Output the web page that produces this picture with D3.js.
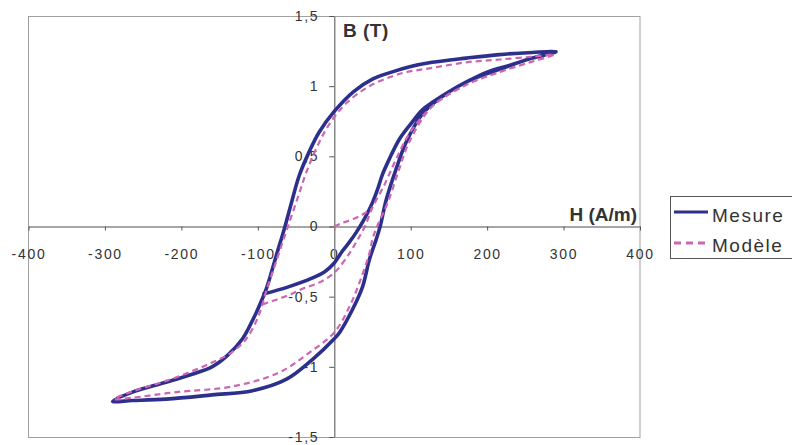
<!DOCTYPE html>
<html>
<head>
<meta charset="utf-8">
<script src="https://cdn.jsdelivr.net/npm/d3@7"></script>
<style>
  html, body { margin: 0; padding: 0; background: #fff; }
  svg { display: block; font-family: "Liberation Sans", Arial, sans-serif; }
</style>
</head>
<body>
<svg id="chart" width="792" height="445"></svg>
<script>
// ---- Data (H in A/m, B in T) ----
const xTicks = [-400, -300, -200, -100, 0, 100, 200, 300, 400];
const yTicks = [-1.5, -1, -0.5, 0, 0.5, 1, 1.5];
const xTitle = "H (A/m)";
const yTitle = "B (T)";
const seriesNames = ["Mesure", "Modèle"];

// Measured loop (single continuous trace)
const mesureH = [-92, -60, -30, -12, 0, 10, 20, 29, 40, 50, 57, 63, 72, 85, 100, 115, 130, 150, 173, 200, 230, 259, 290,
                 259, 216, 173, 128, 100, 75, 50, 25, 0, -20, -33, -46, -56, -65, -76, -88, -96, -107, -120, -140, -160, -190, -220, -264, -290,
                 -264, -220, -160, -107, -63, -29, 0, 7, 24, 37, 46, 55, 60, 68, 81, 94, 115, 130, 173, 216, 259, 290];
const mesureB = [-0.48, -0.43, -0.37, -0.32, -0.26, -0.18, -0.11, -0.04, 0.06, 0.17, 0.27, 0.37, 0.48, 0.62, 0.73, 0.83, 0.89, 0.96, 1.03, 1.1, 1.15, 1.2, 1.245,
                 1.24, 1.225, 1.2, 1.17, 1.14, 1.1, 1.05, 0.96, 0.82, 0.67, 0.53, 0.36, 0.17, -0.01, -0.21, -0.43, -0.54, -0.67, -0.8, -0.92, -1.0, -1.06, -1.11, -1.18, -1.245,
                 -1.24, -1.23, -1.2, -1.17, -1.09, -0.95, -0.8, -0.755, -0.59, -0.43, -0.235, -0.09, 0, 0.19, 0.41, 0.6, 0.8, 0.88, 1.03, 1.12, 1.2, 1.245];

// Model loop
const modeleH = [-94, -60, -40, -20, 0, 20, 30, 40, 50, 65, 81, 98, 128, 173, 216, 259, 288,
                 259, 216, 173, 128, 87, 46, 16, 0, -12, -24, -37, -45, -55, -65, -76, -89, -94, -100, -115, -135, -160, -190, -220, -264, -288,
                 -264, -207, -133, -72, -33, 0, 20, 33, 46, 50, 56, 70, 85, 98, 128, 173, 216, 259, 288];
const modeleB = [-0.555, -0.49, -0.44, -0.4, -0.33, -0.19, -0.1, 0.0, 0.135, 0.29, 0.48, 0.66, 0.855, 1.01, 1.1, 1.175, 1.225,
                 1.21, 1.19, 1.17, 1.13, 1.09, 1.0, 0.88, 0.78, 0.68, 0.55, 0.38, 0.25, 0.09, -0.07, -0.25, -0.46, -0.555, -0.65, -0.8, -0.9, -0.97, -1.04, -1.1, -1.175, -1.23,
                 -1.22, -1.18, -1.14, -1.04, -0.9, -0.755, -0.57, -0.4, -0.19, -0.09, 0.0, 0.17, 0.41, 0.6, 0.855, 1.01, 1.1, 1.175, 1.225];

// Model first magnetisation curve
const initH = [0, 10, 24, 37, 48];
const initB = [0, 0.025, 0.05, 0.085, 0.125];

// ---- Layout ----
const svg = d3.select("#chart");
const plot = { left: 28.5, right: 640, top: 16, bottom: 437 };
const x = d3.scaleLinear().domain([-400, 400]).range([plot.left, plot.right]);
const y = d3.scaleLinear().domain([-1.5, 1.5]).range([plot.bottom, plot.top]);

const axisColor = "#888";
const textColor = "#333";
const blue = "#2c2f8c";
const pink = "#cc66b3";

// Plot border
svg.append("rect")
  .attr("x", plot.left).attr("y", plot.top + 0.5)
  .attr("width", plot.right - plot.left).attr("height", plot.bottom - plot.top)
  .attr("fill", "none").attr("stroke", "#a0a0a0").attr("stroke-width", 1);

const fmt = d => String(d).replace(".", ",");

// X axis through B = 0
const gx = svg.append("g")
  .attr("transform", `translate(0,${y(0)})`)
  .call(d3.axisBottom(x).tickValues(xTicks).tickFormat(fmt).tickSize(4).tickSizeOuter(0).tickPadding(19));
// Y axis through H = 0
const gy = svg.append("g")
  .attr("transform", `translate(${x(0)},0)`)
  .call(d3.axisLeft(y).tickValues(yTicks).tickFormat(fmt).tickSize(5).tickSizeOuter(0).tickPadding(10));

[gx, gy].forEach(g => {
  g.select(".domain").attr("stroke", axisColor).attr("stroke-width", 1.5);
  g.selectAll(".tick line").attr("stroke", "#555").attr("stroke-width", 1);
  g.selectAll(".tick text")
    .attr("fill", textColor)
    .style("font-size", "14px")
    .style("letter-spacing", "1.7px")
    .style("font-family", "'Liberation Sans', Arial, sans-serif");
});

// Axis titles
svg.append("text").attr("x", 343).attr("y", 37)
  .attr("fill", textColor).style("font-size", "19px").style("font-weight", "bold")
  .style("letter-spacing", "0.5px")
  .text(yTitle);
svg.append("text").attr("x", 637).attr("y", 221).attr("text-anchor", "end")
  .attr("fill", textColor).style("font-size", "19px").style("font-weight", "bold")
  .text(xTitle);

// Curves
const line = d3.line()
  .x(d => x(d[0])).y(d => y(d[1]))
  .curve(d3.curveCatmullRom.alpha(0.5));

const mesure = mesureH.map((h, i) => [h, mesureB[i]]);
const modele = modeleH.map((h, i) => [h, modeleB[i]]);
const init = initH.map((h, i) => [h, initB[i]]);

svg.append("path").datum(mesure).attr("d", line)
  .attr("fill", "none").attr("stroke", blue).attr("stroke-width", 3.6)
  .attr("stroke-linejoin", "round").attr("stroke-linecap", "round");

svg.append("path").datum(modele).attr("d", line)
  .attr("fill", "none").attr("stroke", pink).attr("stroke-width", 2.2)
  .attr("stroke-dasharray", "6,4");
svg.append("path").datum(init).attr("d", line)
  .attr("fill", "none").attr("stroke", pink).attr("stroke-width", 2.2)
  .attr("stroke-dasharray", "6,4");

// Legend
const lg = svg.append("g");
lg.append("rect").attr("x", 670.5).attr("y", 196.5).attr("width", 130).attr("height", 62)
  .attr("fill", "#fff").attr("stroke", "#555").attr("stroke-width", 1);
lg.append("line").attr("x1", 674).attr("x2", 708).attr("y1", 212).attr("y2", 212)
  .attr("stroke", blue).attr("stroke-width", 3);
lg.append("line").attr("x1", 674).attr("x2", 708).attr("y1", 243).attr("y2", 243)
  .attr("stroke", pink).attr("stroke-width", 3).attr("stroke-dasharray", "7,5");
lg.append("text").attr("x", 712).attr("y", 222).attr("fill", textColor)
  .style("font-size", "19px").style("letter-spacing", "1.5px").text(seriesNames[0]);
lg.append("text").attr("x", 712).attr("y", 252).attr("fill", textColor)
  .style("font-size", "19px").style("letter-spacing", "1.5px").text(seriesNames[1]);
</script>
</body>
</html>
